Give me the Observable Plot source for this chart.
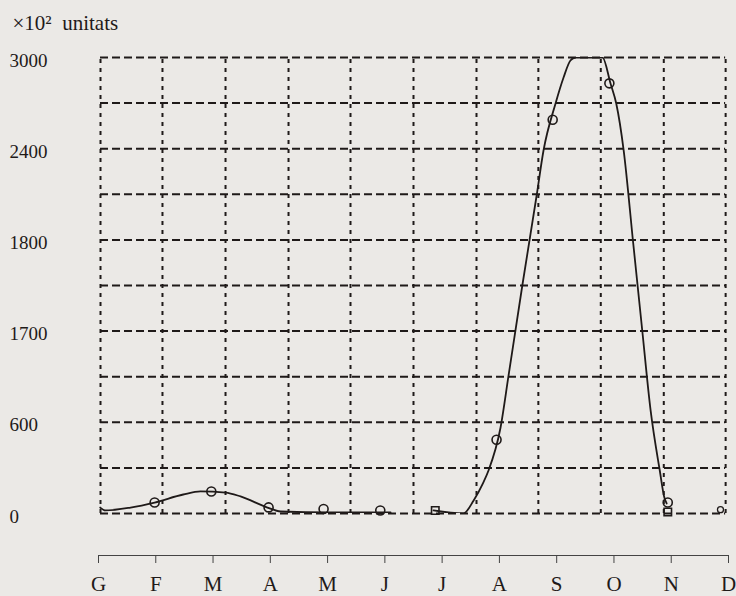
<!DOCTYPE html>
<html><head><meta charset="utf-8">
<script src="https://cdn.jsdelivr.net/npm/d3@7"></script>
<script src="https://cdn.jsdelivr.net/npm/@observablehq/plot@0.6"></script>
<style>
html,body{margin:0;padding:0;background:#ebe9e6;}
#chart{width:736px;height:596px;}
</style></head><body><div id="chart"></div>
<script>
const months = ["G","F","M","A","M","J","J","A","S","O","N","D"];
const yTicks = [0, 600, 1200, 1800, 2400, 3000];
const yTickLabels = ["0", "600", "1700", "1800", "2400", "3000"];
const gridY = [0, 300, 600, 900, 1200, 1500, 1800, 2100, 2400, 2700, 3000];
const gridX = [0.035, 1.117, 2.218, 3.318, 4.40, 5.50, 6.60, 7.68, 8.77, 9.87, 10.95];
const titleText = "×10²\u00a0 unitats";

// hand-drawn curve (month position, value)
const curve1X = [0.03, 0.12, 0.56, 0.98, 1.48, 1.78, 2.22, 2.48, 2.95, 3.18, 4.05, 5.10];
const curve1Y = [39, 20, 39, 72, 125, 145, 138, 112, 39, 13, 7, 7];
const curve2X = [5.85, 6.37, 6.55, 6.71, 6.81, 7.02, 7.16, 7.40, 7.65, 7.77, 7.98, 8.12, 8.24, 8.33, 8.80, 8.94, 9.04, 9.17, 9.335, 9.494, 9.64, 9.80, 9.88, 9.92];
const curve2Y = [20, 0, 86, 197, 283, 566, 908, 1500, 2092, 2388, 2697, 2868, 2980, 3000, 3000, 2829, 2697, 2388, 1783, 1204, 678, 283, 105, 66];

// plotted markers
const circleX = [0.98, 1.97, 2.97, 3.93, 4.92, 6.95, 7.93, 8.92, 9.94];
const circleY = [72, 145, 40, 30, 20, 485, 2590, 2830, 72];
const squareX = [5.88, 9.94];
const squareY = [20, 10];
const partialX = [10.86];
const partialY = [25];

const ink = "#1f1a19";
const curve = [
  ...curve1X.map((x, i) => ({x, y: curve1Y[i], seg: 1})),
  ...curve2X.map((x, i) => ({x, y: curve2Y[i], seg: 2}))
];
const circles = circleX.map((x, i) => ({x, y: circleY[i]}));
const squares = squareX.map((x, i) => ({x, y: squareY[i]}));
const partial = partialX.map((x, i) => ({x, y: partialY[i]}));

const chart = Plot.plot({
  width: 736,
  height: 596,
  marginTop: 57,
  marginBottom: 83,
  marginLeft: 98,
  marginRight: 8,
  style: {background: "#ebe9e6", fontFamily: "Liberation Serif, Times New Roman, serif", color: ink},
  x: {domain: [0, 11]},
  y: {domain: [0, 3000]},
  marks: [
    Plot.ruleY(gridY, {x1: gridX[0], x2: gridX[gridX.length - 1], stroke: ink, strokeWidth: 2, strokeDasharray: "8,4"}),
    Plot.ruleX(gridX, {y1: 0, y2: 3000, stroke: ink, strokeWidth: 2, strokeDasharray: "4,5"}),
    Plot.line(curve, {x: "x", y: "y", z: "seg", curve: "monotone-x", stroke: ink, strokeWidth: 1.8, clip: true}),
    Plot.dot(circles, {x: "x", y: "y", r: 4.5, stroke: ink, strokeWidth: 1.6, fill: "none"}),
    Plot.dot(squares, {x: "x", y: "y", r: 4.2, symbol: "square", stroke: ink, strokeWidth: 1.6, fill: "none"}),
    Plot.dot(partial, {x: "x", y: "y", r: 3, stroke: ink, strokeWidth: 1.3, fill: "none"}),
    Plot.ruleY([0], {x1: 0, x2: 11, dy: 42, stroke: "#444", strokeWidth: 1.2}),
    Plot.axisX(d3.range(months.length), {
      anchor: "bottom", dy: 42, tickSize: 8, tickPadding: 13,
      tickFormat: i => months[i], fontSize: 21, stroke: "#444", fill: ink, label: null
    }),
    Plot.axisY(yTicks, {
      anchor: "left", tickSize: 0, tickPadding: 0, dx: -89, dy: 3, textAnchor: "start",
      tickFormat: (d) => yTickLabels[yTicks.indexOf(d)], fontSize: 19, fill: ink, label: null
    }),
    Plot.text([titleText], {frameAnchor: "top-left", textAnchor: "start", dx: -86, dy: -42, fontSize: 21, fill: ink})
  ]
});
document.getElementById("chart").appendChild(chart);
</script></body></html>
